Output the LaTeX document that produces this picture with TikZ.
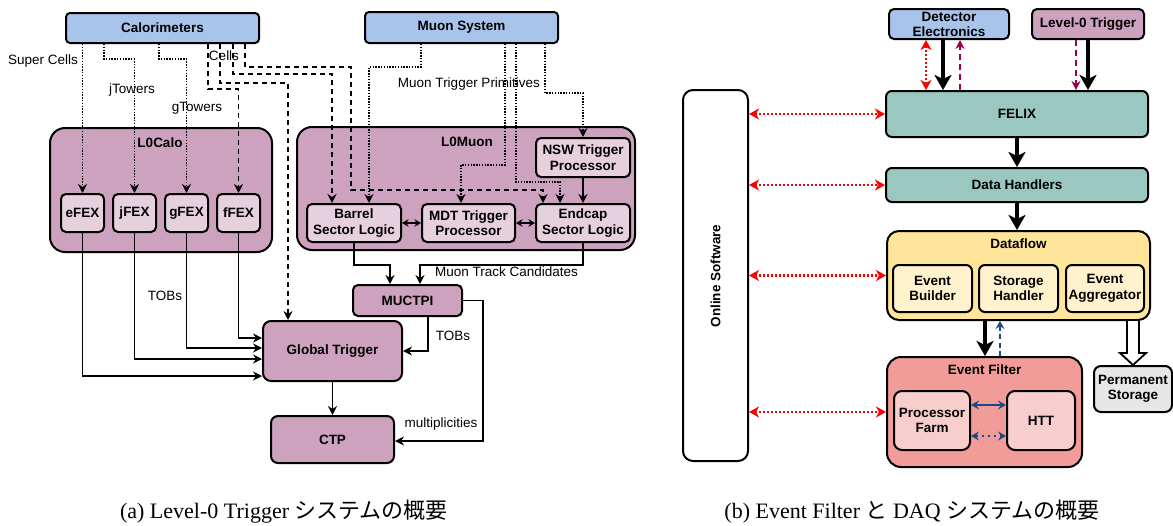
\documentclass[tikz,border=0pt]{standalone}
\usepackage{fontspec}
\setmainfont{Liberation Serif}
\setsansfont{Liberation Sans}
\newfontfamily\cjk{Noto Sans CJK JP}
\usetikzlibrary{arrows.meta,calc}
\definecolor{cblue}{HTML}{A9C4EB}
\definecolor{cmauve}{HTML}{CDA2BE}
\definecolor{cmauvel}{HTML}{E6D0DE}
\definecolor{cteal}{HTML}{9AC7BF}
\definecolor{cyel}{HTML}{FFE599}
\definecolor{cyell}{HTML}{FFF2CC}
\definecolor{csal}{HTML}{F19C99}
\definecolor{csall}{HTML}{F8CECC}
\definecolor{cgray}{HTML}{E6E6E6}
\definecolor{cpurp}{HTML}{99004D}
\definecolor{cnavy}{HTML}{1A4A80}
\begin{document}
\begin{tikzpicture}[x=1pt,y=-1pt,
  every node/.style={font=\sffamily\fontsize{13.5}{15.5}\selectfont, inner sep=0pt},
  box/.style={draw=black, line width=2pt, rounded corners=5pt, font=\sffamily\bfseries\fontsize{13.5}{15.5}\selectfont, align=center, inner sep=0pt},
  btxt/.style={font=\sffamily\bfseries\fontsize{13.5}{15.5}\selectfont},
  ln/.style={line width=1.3pt, -{Stealth[length=9pt,width=9pt,inset=3pt]}},
  dotl/.style={ln, line width=1.4pt, dash pattern=on 1.4pt off 1.4pt},
  dashl/.style={ln, line width=1.5pt, dash pattern=on 5pt off 4pt},
  dbl/.style={line width=1.3pt, {Stealth[length=6.5pt,width=7.5pt,inset=2pt]}-{Stealth[length=6.5pt,width=7.5pt,inset=2pt]}},
  big/.style={line width=4pt, -{Stealth[length=15pt,width=17pt,inset=4pt]}},
  reddbl/.style={red, line width=2.2pt, dash pattern=on 2pt off 2pt, {Stealth[length=10pt,width=11pt,inset=3pt]}-{Stealth[length=10pt,width=11pt,inset=3pt]}},
  purpl/.style={cpurp, line width=2pt, dash pattern=on 6pt off 4pt, -{Stealth[length=9pt,width=9pt,inset=3pt]}},
  navydbl/.style={cnavy, line width=1.8pt, {Stealth[length=8pt,width=9pt,inset=3pt]}-{Stealth[length=8pt,width=9pt,inset=3pt]}},
  navyl/.style={cnavy, line width=1.8pt, dash pattern=on 5pt off 3.5pt, -{Stealth[length=8pt,width=9pt,inset=3pt]}},
  captxt/.style={font=\rmfamily\fontsize{22}{26}\selectfont}
]
\fill[white] (0,0) rectangle (1173,525);
\useasboundingbox (0,0) rectangle (1173,525);

% ---------------- (a) ----------------
\node[box, fill=cblue, rounded corners=4pt, minimum width=193pt, minimum height=30pt] (cal) at (162.5,28) {Calorimeters};
\node[box, fill=cblue, rounded corners=4pt, minimum width=193pt, minimum height=31pt] (muon) at (461.5,27.5) {Muon System};

\node[box, fill=cmauve, rounded corners=15pt, minimum width=222pt, minimum height=124pt] (l0calo) at (161,190) {};
\node[btxt] (l0calot) at (160,143) {L0Calo};
\node[box, fill=cmauvel, minimum width=43pt, minimum height=38pt] (efex) at (82.5,213) {eFEX};
\node[box, fill=cmauvel, minimum width=43pt, minimum height=38pt] (jfex) at (134.5,213) {jFEX};
\node[box, fill=cmauvel, minimum width=43pt, minimum height=38pt] (gfex) at (186.5,213) {gFEX};
\node[box, fill=cmauvel, minimum width=43pt, minimum height=38pt] (ffex) at (238.5,213) {fFEX};

\node[box, fill=cmauve, rounded corners=15pt, minimum width=338pt, minimum height=123pt] (l0muon) at (466,188.5) {};
\node[btxt] (l0muont) at (467,142) {L0Muon};
\node[box, fill=cmauvel, minimum width=94pt, minimum height=39pt] (nsw) at (583,157.5) {NSW Trigger\\Processor};
\node[box, fill=cmauvel, minimum width=94pt, minimum height=38pt] (barrel) at (354,223) {Barrel\\Sector Logic};
\node[box, fill=cmauvel, minimum width=93pt, minimum height=38pt] (mdt) at (468.5,223) {MDT Trigger\\Processor};
\node[box, fill=cmauvel, minimum width=94pt, minimum height=38pt] (endcap) at (583,223) {Endcap\\Sector Logic};

\node[box, fill=cmauve, minimum width=109pt, minimum height=31pt] (muctpi) at (407.5,300.5) {MUCTPI};
\node[box, fill=cmauve, rounded corners=8pt, minimum width=139pt, minimum height=60pt] (gt) at (332.5,351) {Global Trigger};
\node[box, fill=cmauve, rounded corners=7pt, minimum width=123pt, minimum height=47pt] (ctp) at (332.5,439.5) {CTP};

% calorimeter connectors
\draw[dotl] (cal.south -| efex.north) -- (efex.north);
\node[anchor=east] (lsc) at (78,61) {Super Cells};
\draw[dotl] (cal.south -| 104,0) |- (jfex.north |- 0,59) -- (jfex.north);
\node (ljt) at (132,90) {jTowers};
\draw[dotl] (cal.south -| 159,0) |- (gfex.north |- 0,59) -- (gfex.north);
\node (lgt) at (197,108) {gTowers};
\draw[dashl] (cal.south -| 208,0) |- (ffex.north |- 0,89) -- (ffex.north);
\draw[dashl] (cal.south -| 220,0) |- (288,83) -- (gt.north -| 288,0);
\draw[dashl] (cal.south -| 233,0) |- (332,74) -- (barrel.north -| 332,0);
\draw[dashl] (cal.south -| 245,0) |- (351,67) -- (351,190) -| (endcap.north -| 543,0);
\node (lcells) at (224,56) {Cells};

% muon connectors
\draw[dotl] (muon.south -| 421,0) |- (369,67) -- (barrel.north -| 369,0);
\draw[dotl] (muon.south -| 505,0) |- (461,165) -- (mdt.north -| 461,0);
\draw[dotl] (muon.south -| 516,0) |- (560,182) -- (endcap.north -| 560,0);
\draw[dotl] (muon.south -| 545,0) |- (nsw.north |- 0,93) -- (nsw.north);
\node (lmtp) at (469,84) {Muon Trigger Primitives};
\draw[ln] (nsw.south) -- (endcap.north);
\draw[dbl] (barrel.east) -- (mdt.west);
\draw[dbl] (mdt.east) -- (endcap.west);

\draw[ln] (barrel.south) |- (390,265) -- (muctpi.north -| 390,0);
\draw[ln] (endcap.south) |- (420,265) -- (muctpi.north -| 420,0);
\node[anchor=west] (lmtc) at (435,272) {Muon Track Candidates};

\draw[ln] (ffex.south) |- (gt.west |- 0,338);
\draw[ln] (gfex.south) |- (gt.west |- 0,348);
\draw[ln] (jfex.south) |- (gt.west |- 0,359);
\draw[ln] (efex.south) |- (gt.west |- 0,376);
\node (ltobs1) at (165,296) {TOBs};

\draw[ln] (muctpi.south -| 428,0) |- (gt.east);
\node (ltobs2) at (453,336) {TOBs};
\draw[ln] (muctpi.east) -| (483,441) -- (ctp.east |- 0,441);
\node (lmult) at (441,424) {multiplicities};
\draw[ln] (gt.south) -- (ctp.north);

% ---------------- (b) ----------------
\node[box, fill=cblue, minimum width=120pt, minimum height=30pt, font=\sffamily\bfseries\fontsize{13.5}{15}\selectfont] (de) at (949,24) {Detector\\Electronics};
\node[box, fill=cmauve, minimum width=112pt, minimum height=30pt] (l0t) at (1088,24) {Level-0 Trigger};
\node[box, fill=cteal, rounded corners=6pt, minimum width=262pt, minimum height=46pt] (felix) at (1017,114) {FELIX};
\node[box, fill=cteal, rounded corners=6pt, minimum width=262pt, minimum height=34pt] (dh) at (1017,185) {Data Handlers};
\node[box, fill=white, rounded corners=10pt, minimum width=65pt, minimum height=371pt] (os) at (715.5,275.5) {};
\node[btxt, rotate=90] (ost) at (715.5,276) {Online Software};

\node[box, fill=cyel, rounded corners=12pt, minimum width=263pt, minimum height=89pt] (df) at (1018.5,275.5) {};
\node[btxt] (dft) at (1018.5,244) {Dataflow};
\node[box, fill=cyell, rounded corners=6pt, minimum width=79pt, minimum height=47pt] (eb) at (932.5,288.5) {Event\\Builder};
\node[box, fill=cyell, rounded corners=6pt, minimum width=79pt, minimum height=47pt] (sh) at (1018.5,288.5) {Storage\\Handler};
\node[box, fill=cyell, rounded corners=6pt, minimum width=78pt, minimum height=47pt] (ea) at (1105,288.5) {Event\\Aggregator};

\node[box, fill=csal, rounded corners=14pt, minimum width=195pt, minimum height=110pt] (ef) at (984.5,412) {};
\node[btxt] (eft) at (984.5,370) {Event Filter};
\node[box, fill=csall, rounded corners=8pt, minimum width=76pt, minimum height=59pt] (pf) at (932,420.5) {Processor\\Farm};
\node[box, fill=csall, rounded corners=8pt, minimum width=68pt, minimum height=59pt] (htt) at (1041,420.5) {HTT};
\node[box, fill=cgray, rounded corners=7pt, minimum width=78pt, minimum height=46pt] (ps) at (1133,389) {Permanent\\Storage};

\draw[reddbl] (de.south -| 926,0) -- (felix.north -| 926,0);
\draw[big] (de.south -| 943,0) -- (felix.north -| 943,0);
\draw[purpl] (felix.north -| 960,0) -- (de.south -| 960,0);
\draw[purpl] (l0t.south -| 1076,0) -- (felix.north -| 1076,0);
\draw[big] (l0t.south) -- (felix.north -| l0t.south);
\draw[big] (felix.south) -- (dh.north);
\draw[big] (dh.south) -- (dh.south |- df.north);

\draw[reddbl] (os.east |- felix.west) -- (felix.west);
\draw[reddbl] (os.east |- dh.west) -- (dh.west);
\draw[reddbl] (os.east |- df.west) -- (df.west);
\draw[reddbl] (os.east |- ef.west) -- (ef.west);

\draw[big] (df.south -| 985,0) -- (ef.north -| 985,0);
\draw[navyl] (ef.north -| 1000,0) -- (df.south -| 1000,0);
\draw[navydbl] (pf.east |- 0,405) -- (htt.west |- 0,405);
\draw[navydbl, dash pattern=on 2pt off 4pt] (pf.east |- 0,436) -- (htt.west |- 0,436);

\draw[line width=1.8pt, fill=white, line join=miter] (df.south -| 1127,0) -- (1127,353) -- (1120,353) -- (ps.north) -- (1146,353) -- (1139,353) -- (df.south -| 1139,0);

% captions
\node[captxt] (capa) at (284,512) {(a) Level-0 Trigger {\cjk システムの概要}};
\node[captxt] (capb) at (912,512) {(b) Event Filter {\cjk と} DAQ {\cjk システムの概要}};
\end{tikzpicture}
\end{document}
